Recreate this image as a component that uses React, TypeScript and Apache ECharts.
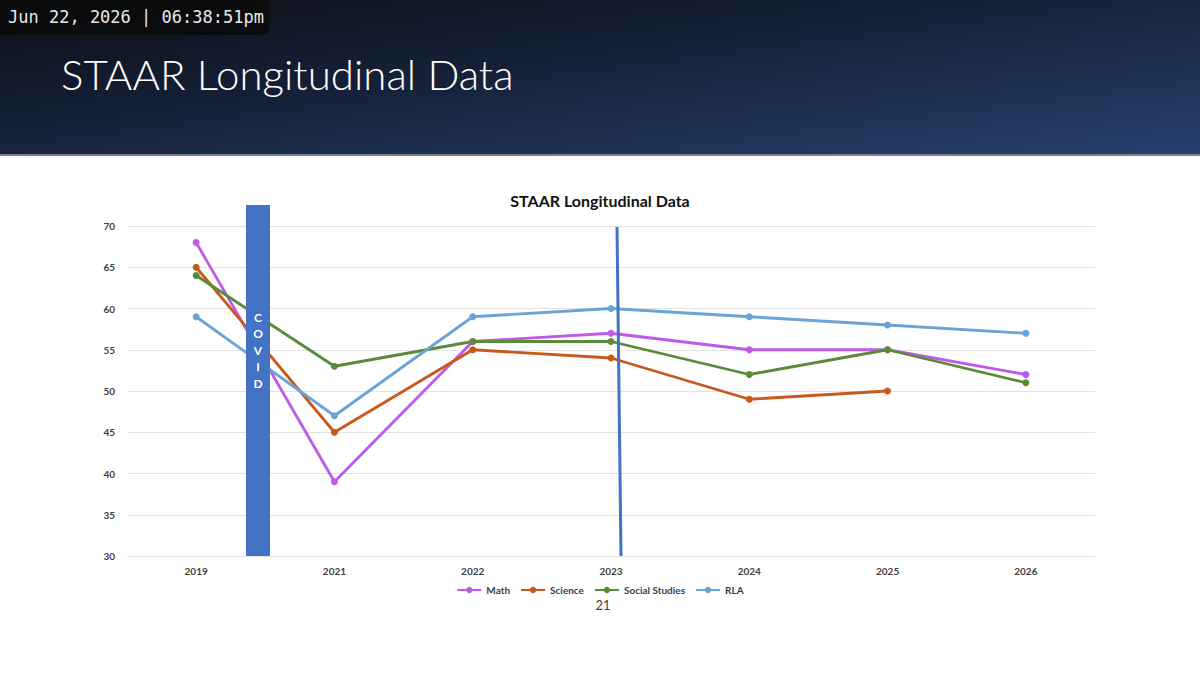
import React, { useEffect, useRef } from "react";
import * as echarts from "echarts";

const years = ["2019", "2021", "2022", "2023", "2024", "2025", "2026"];
const mathScores = [68, 39, 56, 57, 55, 55, 52];
const scienceScores = [65, 45, 55, 54, 49, 50, null];
const socialStudiesScores = [64, 53, 56, 56, 52, 55, 51];
const rlaScores = [59, 47, 59, 60, 59, 58, 57];
const seriesNames = ["Math", "Science", "Social Studies", "RLA"];
const seriesColors = ["#bf5ae8", "#c55a1c", "#5a8a3a", "#6aa3d5"];
const covidLetters = ["C", "O", "V", "I", "D"];

export default function App() {
  const ref = useRef<HTMLDivElement>(null);
  useEffect(() => {
    document.body.style.margin = "0";
    const chart = echarts.init(ref.current!, null, { renderer: "svg" });
    const font = "Lato, 'Open Sans', sans-serif";
    const seriesData = [mathScores, scienceScores, socialStudiesScores, rlaScores];
    chart.setOption({
      animation: false,
      backgroundColor: "#ffffff",
      textStyle: { fontFamily: font },
      title: {
        text: "STAAR Longitudinal Data",
        left: "center",
        top: 187,
        textStyle: { fontFamily: font, fontSize: 16, fontWeight: "bold", color: "#111" },
      },
      legend: {
        data: seriesNames,
        top: 580,
        left: "center",
        itemWidth: 24,
        itemHeight: 8,
        itemGap: 10,
        textStyle: { fontFamily: font, fontSize: 10, fontWeight: "bold", color: "#404040" },
      },
      grid: { left: 127, right: 105, top: 226, bottom: 119 },
      xAxis: {
        type: "category",
        data: years,
        boundaryGap: true,
        axisLine: { show: true, lineStyle: { color: "#e3e3e3" } },
        axisTick: { show: false },
        axisLabel: { fontFamily: font, fontSize: 10, fontWeight: "bold", color: "#404040", margin: 10 },
      },
      yAxis: {
        type: "value",
        min: 30,
        max: 70,
        interval: 5,
        axisLine: { show: false },
        axisTick: { show: false },
        splitLine: { lineStyle: { color: "#e3e3e3" } },
        axisLabel: { fontFamily: font, fontSize: 10, fontWeight: "bold", color: "#404040", margin: 12 },
      },
      series: seriesNames.map((n, i) => ({
        name: n,
        type: "line",
        data: seriesData[i],
        color: seriesColors[i],
        symbol: "circle",
        symbolSize: 7,
        lineStyle: { width: 2.8, color: seriesColors[i] },
        itemStyle: { color: seriesColors[i] },
        z: 2,
      })),
      graphic: [
        {
          type: "rect",
          left: 0,
          top: 0,
          shape: { width: 1200, height: 155 },
          style: {
            fill: new echarts.graphic.LinearGradient(0, 0, 1, 1, [
              { offset: 0, color: "#0c0f14" },
              { offset: 0.45, color: "#16223a" },
              { offset: 1, color: "#27406e" },
            ]),
          },
          z: 0,
        },
        {
          type: "rect",
          left: 0,
          top: 154,
          shape: { width: 1200, height: 2 },
          style: { fill: "#7a7f88" },
          z: 1,
        },
        {
          type: "rect",
          left: 0,
          top: 0,
          shape: { width: 269, height: 35, r: [0, 0, 6, 0] },
          style: { fill: "rgba(10,10,12,0.85)" },
          z: 2,
        },
        {
          type: "text",
          left: 8,
          top: 8,
          style: { text: "Jun 22, 2026 | 06:38:51pm", font: "17px 'DejaVu Sans Mono', monospace", fill: "#e8e8e8" },
          z: 3,
        },
        {
          type: "text",
          left: 61,
          top: 53,
          style: { text: "STAAR Longitudinal Data", font: "300 42px Lato, sans-serif", fill: "#ffffff" },
          z: 3,
        },
        {
          type: "rect",
          left: 246,
          top: 205,
          shape: { width: 24, height: 351 },
          style: { fill: "#4472c4" },
          z: 10,
        },
        ...covidLetters.map((ch, i) => ({
          type: "text",
          x: 258,
          y: 317 + i * 16.5,
          style: {
            text: ch,
            font: "bold 12px Lato, sans-serif",
            fill: "#ffffff",
            textAlign: "center",
            textVerticalAlign: "middle",
          },
          z: 11,
        })),
        {
          type: "line",
          shape: { x1: 617, y1: 227, x2: 621, y2: 556 },
          style: { stroke: "#4472c4", lineWidth: 3 },
          z: 10,
        },
        {
          type: "text",
          x: 603,
          y: 605,
          style: {
            text: "21",
            font: "13px Lato, sans-serif",
            fill: "#404040",
            textAlign: "center",
            textVerticalAlign: "middle",
          },
          z: 3,
        },
      ],
    });
    return () => chart.dispose();
  }, []);
  return <div ref={ref} style={{ width: 1200, height: 675 }} />;
}
